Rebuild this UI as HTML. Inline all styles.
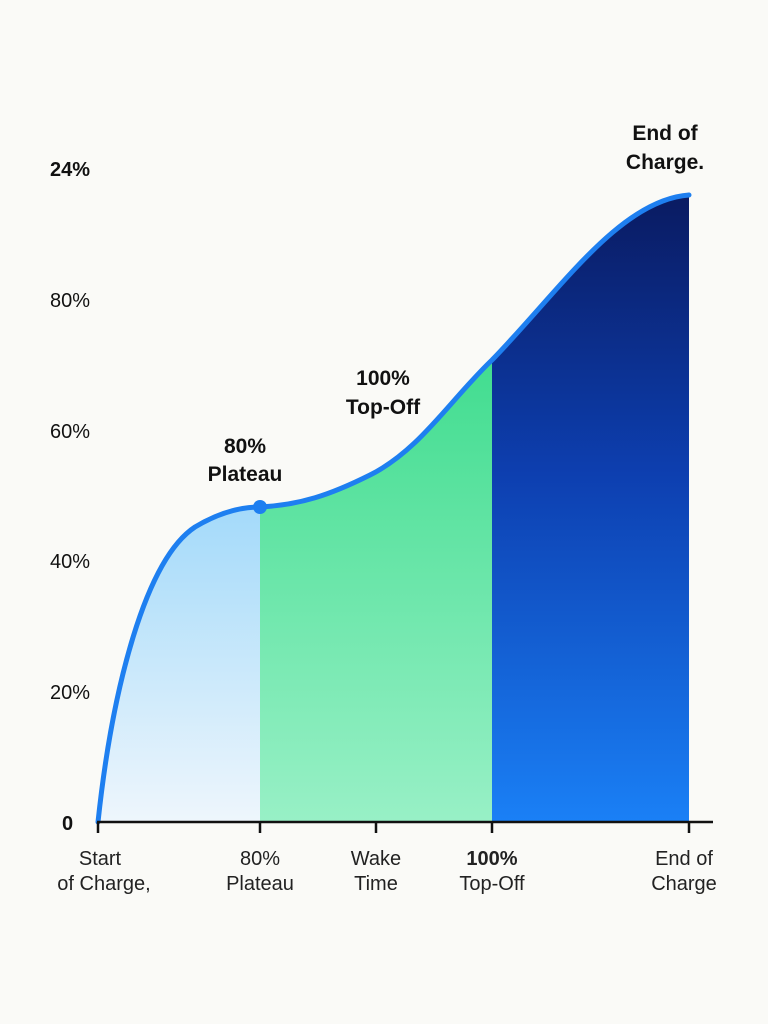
<!DOCTYPE html>
<html><head><meta charset="utf-8"><style>
html,body{margin:0;padding:0;background:#fafaf7;}
svg{display:block;font-family:"Liberation Sans",Arial,sans-serif;}
</style></head><body>
<svg width="768" height="1024" viewBox="0 0 768 1024" xmlns="http://www.w3.org/2000/svg">
<defs>
<linearGradient id="g1" x1="0" y1="0" x2="0" y2="1">
<stop offset="0" stop-color="#4fbaf7"/><stop offset="1" stop-color="#eef6fc"/></linearGradient>
<linearGradient id="g2" x1="0" y1="0" x2="0" y2="1">
<stop offset="0" stop-color="#1ad477"/><stop offset="1" stop-color="#98f0c6"/></linearGradient>
<linearGradient id="g3" x1="0" y1="0" x2="0" y2="1">
<stop offset="0" stop-color="#0a1a60"/><stop offset="0.45" stop-color="#0d3fb0"/><stop offset="1" stop-color="#1a80f6"/></linearGradient>
<clipPath id="area"><path d="M98,822 C112,690 145,560 195,527 C220,512 242,507 260,507 C300,505 330,495 370,475 C420,450 450,400 492,360 C560,290 620,200 689,195 L689,822 Z"/></clipPath>
</defs>
<rect width="768" height="1024" fill="#fafaf7"/>
<g clip-path="url(#area)">
<rect x="98" y="150" width="162" height="672" fill="url(#g1)"/>
<rect x="260" y="150" width="232" height="672" fill="url(#g2)"/>
<rect x="492" y="190" width="197" height="632" fill="url(#g3)"/>
</g>
<path d="M98,822 C112,690 145,560 195,527 C220,512 242,507 260,507 C300,505 330,495 370,475 C420,450 450,400 492,360 C560,290 620,200 689,195" fill="none" stroke="#1e7ff0" stroke-width="5" stroke-linecap="round"/>
<circle cx="260" cy="507" r="7" fill="#1e7ff0"/>
<line x1="97" y1="822" x2="713" y2="822" stroke="#111" stroke-width="2.5"/>
<g stroke="#111" stroke-width="2.5">
<line x1="98" y1="822" x2="98" y2="833"/><line x1="260" y1="822" x2="260" y2="833"/>
<line x1="376" y1="822" x2="376" y2="833"/><line x1="492" y1="822" x2="492" y2="833"/>
<line x1="689" y1="822" x2="689" y2="833"/></g>
<g font-size="20" fill="#111" text-anchor="start">
<text x="50" y="176" font-weight="bold">24%</text>
<text x="50" y="307">80%</text>
<text x="50" y="438">60%</text>
<text x="50" y="568">40%</text>
<text x="50" y="699">20%</text>
<text x="62" y="830" font-weight="bold">0</text>
</g>
<g font-size="20" fill="#222" text-anchor="middle">
<text x="100" y="865">Start</text><text x="104" y="890">of Charge,</text>
<text x="260" y="865">80%</text><text x="260" y="890">Plateau</text>
<text x="376" y="865">Wake</text><text x="376" y="890">Time</text>
<text x="492" y="865" font-weight="bold">100%</text><text x="492" y="890">Top-Off</text>
<text x="684" y="865">End of</text><text x="684" y="890">Charge</text>
</g>
<g font-size="21" font-weight="bold" fill="#111" text-anchor="middle">
<text x="665" y="140">End of</text><text x="665" y="169">Charge.</text>
<text x="383" y="385">100%</text><text x="383" y="414">Top-Off</text>
<text x="245" y="453">80%</text><text x="245" y="481">Plateau</text>
</g>
</svg>
</body></html>
